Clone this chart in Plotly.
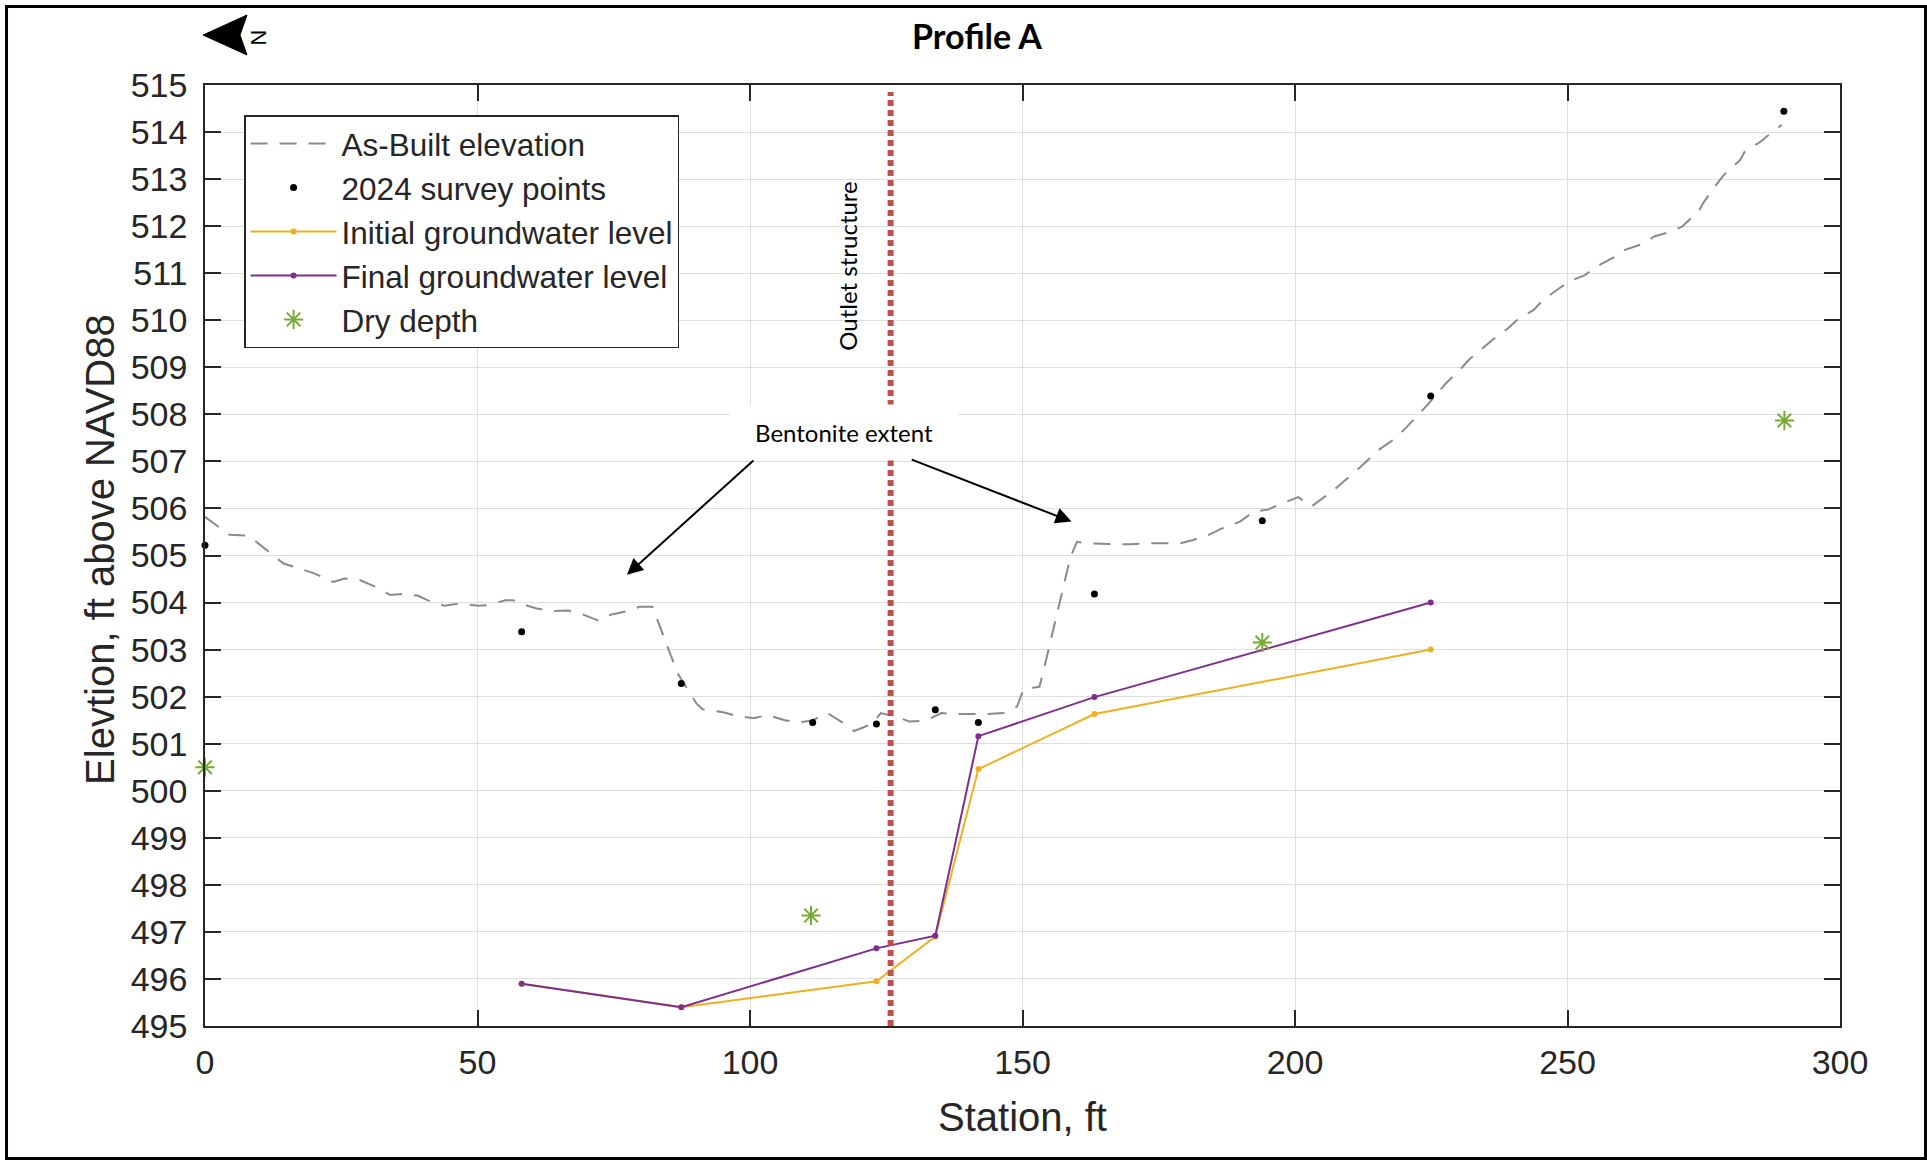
import plotly.graph_objects as go

# ---------------- data ----------------
asbuilt_station = [0, 2.5, 4.5, 8, 13, 14.4, 17.2, 20, 23.5, 25.6, 28.4, 31.2, 34, 36, 39, 41, 44,
                   46.7, 50.2, 52.3, 55.1, 56.5, 58.6, 60.7, 63.2, 66.7, 68.8, 72.3, 74.4, 77.9,
                   79.7, 82.1, 86.7, 90.2, 91.3, 95.1, 97.2, 100.7, 103.1, 106.4, 108.8, 111.3,
                   114.2, 117.0, 119.1, 122.4, 124.0, 126.9, 129.3, 132.2, 135.1, 137.9, 140.4,
                   143.7, 146.5, 149.0, 150.2, 153.1, 153.9, 155.5, 157.2, 158.8, 160.0, 162.1,
                   167.0, 169.9, 173.2, 176.0, 178.9, 181.3, 184.2, 186.7, 189.9, 192.4, 194.9,
                   197.7, 200.6, 203.0, 207.1, 212.1, 215.3, 217.9, 220.0, 222.6, 224.3, 227.7,
                   230.2, 231.9, 233.6, 236.2, 239.1, 240.8, 243.8, 245.5, 248.5, 250.2, 253.2,
                   255.3, 258.7, 260.4, 264.2, 265.9, 268.9, 271.0, 274.0, 274.9, 277.0, 278.7,
                   281.7, 282.5, 285.5, 287.2, 289.3]
asbuilt_elev = [505.82, 505.61, 505.44, 505.42, 504.97, 504.83, 504.73, 504.62, 504.44, 504.51,
                504.48, 504.34, 504.16, 504.18, 504.15, 504.04, 503.93, 503.98, 503.93, 503.95,
                504.05, 504.05, 503.95, 503.88, 503.82, 503.83, 503.77, 503.61, 503.74, 503.83,
                503.91, 503.91, 502.50, 501.85, 501.73, 501.67, 501.60, 501.54, 501.61, 501.50,
                501.45, 501.49, 501.65, 501.45, 501.27, 501.42, 501.65, 501.57, 501.47, 501.49,
                501.65, 501.63, 501.63, 501.63, 501.65, 501.79, 502.16, 502.21, 502.57, 503.35,
                504.20, 504.97, 505.29, 505.26, 505.24, 505.24, 505.26, 505.26, 505.26, 505.33,
                505.44, 505.58, 505.72, 505.93, 505.97, 506.11, 506.24, 506.04, 506.39, 506.89,
                507.24, 507.45, 507.67, 507.99, 508.20, 508.66, 508.94, 509.16, 509.33, 509.58,
                509.83, 510.01, 510.22, 510.43, 510.68, 510.82, 510.96, 511.14, 511.35, 511.49,
                511.64, 511.78, 511.88, 511.99, 512.31, 512.49, 512.84, 513.09, 513.41, 513.58,
                513.80, 513.97, 514.15]

survey_station = [0, 58.1, 87.4, 111.5, 123.2, 134.0, 141.9, 163.2, 194.0, 224.9, 289.7]
survey_elev = [505.22, 503.38, 502.28, 501.45, 501.42, 501.72, 501.45, 504.18, 505.74, 508.39, 514.44]

gw_station = [58.1, 87.4, 123.2, 134.0, 141.9, 163.2, 224.9]
gw_initial = [495.90, 495.40, 495.95, 496.90, 500.46, 501.63, 503.00]
gw_final = [495.90, 495.40, 496.65, 496.92, 501.16, 501.99, 504.00]

dry_station = [0, 111.2, 194.0, 289.8]
dry_elev = [500.50, 497.35, 503.15, 507.87]

outlet_station = 125.8
outlet_range = [495, 514.85]

x_ticks = [0, 50, 100, 150, 200, 250, 300]
y_ticks = list(range(495, 516))

# ---------------- figure ----------------
AX = "#262626"
SANS = "Liberation Sans, Arial, sans-serif"
TICKFONT = dict(family=SANS, size=34, color=AX)

fig = go.Figure()

fig.add_trace(go.Scatter(
    x=asbuilt_station, y=asbuilt_elev, mode="lines", name="As-Built elevation",
    line=dict(color="#8a8a8a", width=2, dash="17px,12px")))
fig.add_trace(go.Scatter(
    x=survey_station, y=survey_elev, mode="markers", name="2024 survey points",
    marker=dict(color="black", size=7), cliponaxis=False))
fig.add_trace(go.Scatter(
    x=gw_station, y=gw_initial, mode="lines+markers", name="Initial groundwater level",
    line=dict(color="#EDB120", width=2), marker=dict(color="#EDB120", size=6)))
fig.add_trace(go.Scatter(
    x=gw_station, y=gw_final, mode="lines+markers", name="Final groundwater level",
    line=dict(color="#7E2F8E", width=2), marker=dict(color="#7E2F8E", size=6)))
fig.add_trace(go.Scatter(
    x=dry_station, y=dry_elev, mode="markers", name="Dry depth", cliponaxis=False,
    marker=dict(symbol="asterisk-open", size=16, color="#77AC30",
                line=dict(color="#77AC30", width=2))))
fig.add_trace(go.Scatter(
    x=[outlet_station, outlet_station], y=outlet_range, mode="lines", showlegend=False,
    hoverinfo="skip", line=dict(color="#C0504D", width=6, dash="6px,4px")))

axis_common = dict(
    ticks="inside", ticklen=16, tickwidth=1.5, tickcolor=AX,
    showline=True, linecolor=AX, linewidth=1.5, mirror="ticks",
    showgrid=True, gridcolor="#dedede", gridwidth=1.2, zeroline=False,
    tickfont=TICKFONT,
)

fig.update_layout(
    width=1927, height=1160, autosize=False,
    margin=dict(l=205, r=87, t=85, b=134, pad=0),
    paper_bgcolor="white", plot_bgcolor="white",
    xaxis=dict(range=[0, 300], tickvals=x_ticks, ticklabelstandoff=5, **axis_common),
    yaxis=dict(range=[495, 515], tickvals=y_ticks, ticklabelstandoff=9, **axis_common),
    title=dict(text="Profile A", x=977 / 1927, xref="container", xanchor="center",
               y=1 - 37 / 1160, yref="container", yanchor="middle",
               font=dict(family="Lato, sans-serif", size=34, color="black", weight="bold")),
    legend=dict(x=0.0239, y=0.968, xanchor="left", yanchor="top",
                bgcolor="white", bordercolor=AX, borderwidth=1.5,
                font=dict(family=SANS, size=31.5, color=AX),
                itemwidth=86, tracegroupgap=0),
    showlegend=True,
)

# axis titles
fig.add_annotation(text="Station, ft", xref="paper", yref="paper", x=0.5, y=-0.0967,
                   xanchor="center", yanchor="middle", showarrow=False,
                   font=dict(family=SANS, size=40, color=AX))
fig.add_annotation(text="Elevtion, ft above NAVD88", xref="paper", yref="paper",
                   x=-0.0642, y=0.506, xanchor="center", yanchor="middle", textangle=-90,
                   showarrow=False, font=dict(family=SANS, size=40, color=AX))

# call-outs
fig.add_annotation(text="Outlet structure", x=117.9, y=511.15, xref="x", yref="y",
                   textangle=-90, showarrow=False,
                   font=dict(family="Lato, sans-serif", size=24, color="black"))
fig.add_annotation(text="Bentonite extent", x=117.25, y=507.62, xref="x", yref="y",
                   showarrow=False, bgcolor="white", width=220, height=49, borderpad=3,
                   font=dict(family="Lato, sans-serif", size=24, color="black"))
for hx, hy, tx, ty in [(77.43, 504.59, 100.9, 507.05), (159.0, 505.72, 129.4, 507.05)]:
    fig.add_annotation(text="", x=hx, y=hy, ax=tx, ay=ty, xref="x", yref="y",
                       axref="x", ayref="y", showarrow=True, arrowhead=2, arrowsize=1.6,
                       arrowwidth=2, arrowcolor="black", standoff=0, startstandoff=0)

# north arrow
fig.add_shape(type="path", xref="paper", yref="paper",
              path="M -0.0012,1.0531 L 0.0257,1.0744 L 0.0214,1.0531 L 0.0257,1.0319 Z",
              fillcolor="black", line=dict(color="black", width=1))
fig.add_annotation(text="N", xref="paper", yref="paper", x=0.0244, y=1.0605,
                   textangle=90, showarrow=False,
                   font=dict(family=SANS, size=22, color="black"))

# outer frame
fig.add_shape(type="rect", xref="paper", yref="paper",
              x0=-0.1214, x1=1.0523, y0=-0.1408, y1=1.0834,
              line=dict(color="black", width=3), fillcolor="rgba(0,0,0,0)")

fig.write_html("out.html", config={"displayModeBar": False},
               post_script="document.body.style.margin='0';document.body.style.overflow='hidden';")
